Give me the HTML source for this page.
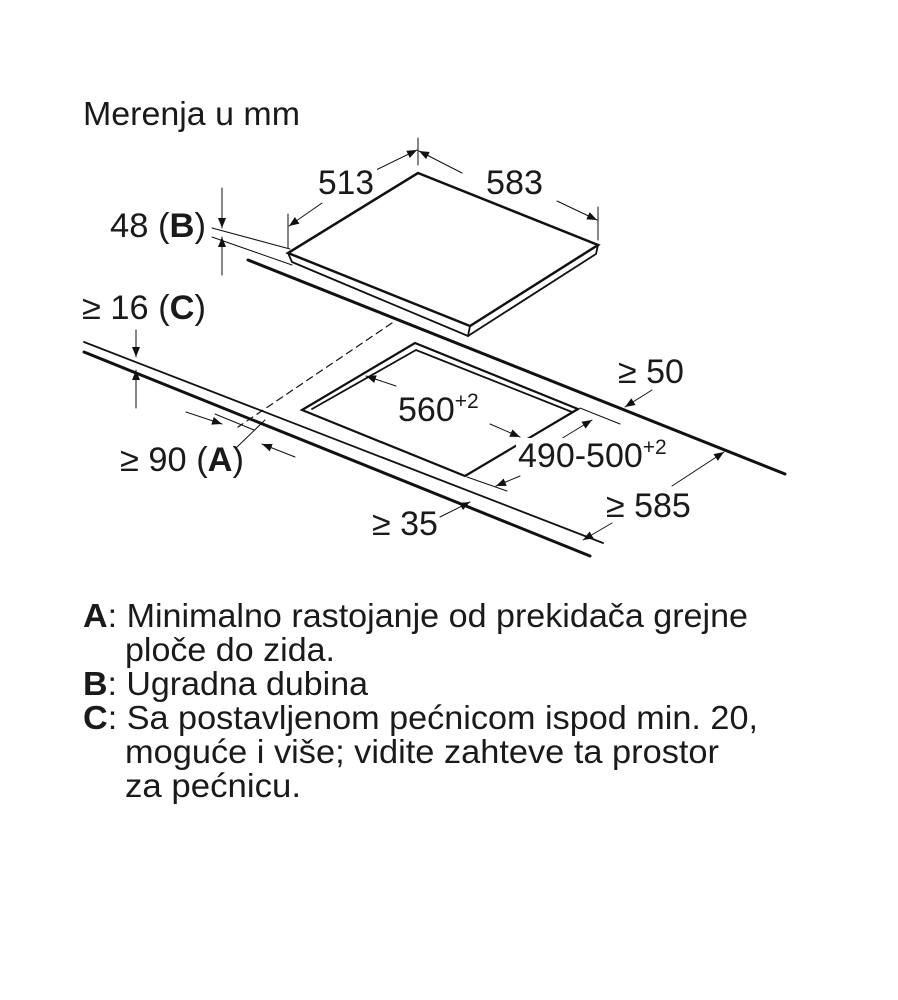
<!DOCTYPE html>
<html><head><meta charset="utf-8"><style>
html,body{margin:0;padding:0;background:#fff;}
svg{display:block;}
text{font-family:"Liberation Sans",Arial,sans-serif;fill:#1a1a1a;}
</style></head><body>
<svg width="898" height="1000" viewBox="0 0 898 1000" xmlns="http://www.w3.org/2000/svg">
<defs>
<marker id="ar" viewBox="0 0 10 10" refX="10" refY="5" markerWidth="10" markerHeight="10" orient="auto-start-reverse" markerUnits="userSpaceOnUse">
<path d="M0,1 L10,5 L0,9 z" fill="#111"/></marker>
</defs>
<text x="83" y="125" font-size="33" textLength="217" lengthAdjust="spacingAndGlyphs">Merenja u mm</text>

<g stroke="#111" fill="none" stroke-linecap="round">
<path d="M418,173 L598,245 L470,326 L288,253 Z" stroke-width="2.5" fill="#fff"/>
<path d="M288,253 L292,262 L468,336 L470,326" stroke-width="1.8"/>
<path d="M468,336 L596,254 L598,245" stroke-width="1.8"/>
<line x1="248" y1="260" x2="785" y2="474" stroke-width="3"/>
<line x1="84" y1="342" x2="603" y2="543" stroke-width="1.8"/>
<line x1="84" y1="352" x2="590" y2="556" stroke-width="3"/>
<line x1="392" y1="323" x2="238" y2="427" stroke-width="1.2" stroke-dasharray="7,5"/>
<path d="M415,343 L578,409 L465,476 L302,410 Z" stroke-width="2.2" fill="#fff"/>
<path d="M312,409 L416,350 L572,412" stroke-width="1.8"/>
<line x1="212" y1="228" x2="290" y2="249" stroke-width="1"/>
<line x1="212" y1="237" x2="292" y2="265" stroke-width="1"/>
<line x1="222" y1="188" x2="222" y2="228" stroke-width="1" marker-end="url(#ar)"/>
<line x1="222" y1="275" x2="222" y2="237" stroke-width="1" marker-end="url(#ar)"/>
<line x1="288" y1="214" x2="288" y2="248" stroke-width="1"/>
<line x1="418" y1="138" x2="418" y2="165" stroke-width="1"/>
<line x1="322" y1="203" x2="289" y2="226" stroke-width="1" marker-end="url(#ar)"/>
<line x1="372" y1="172" x2="417" y2="150" stroke-width="1" marker-end="url(#ar)"/>
<line x1="598" y1="207" x2="598" y2="240" stroke-width="1"/>
<line x1="462" y1="173" x2="419" y2="151" stroke-width="1" marker-end="url(#ar)"/>
<line x1="557" y1="201" x2="597" y2="220" stroke-width="1" marker-end="url(#ar)"/>
<line x1="136" y1="330" x2="136" y2="357" stroke-width="1" marker-end="url(#ar)"/>
<line x1="136" y1="408" x2="136" y2="370" stroke-width="1" marker-end="url(#ar)"/>
<line x1="215" y1="414" x2="254" y2="430" stroke-width="1"/>
<line x1="186" y1="412" x2="222" y2="424" stroke-width="1" marker-end="url(#ar)"/>
<line x1="236" y1="448" x2="265" y2="420" stroke-width="1"/>
<line x1="295" y1="457" x2="262" y2="444" stroke-width="1" marker-end="url(#ar)"/>
<line x1="396" y1="386" x2="366" y2="376" stroke-width="1" marker-end="url(#ar)"/>
<line x1="490" y1="424" x2="520" y2="437" stroke-width="1" marker-end="url(#ar)"/>
<line x1="580" y1="408" x2="620" y2="424" stroke-width="1"/>
<line x1="467" y1="477" x2="507" y2="491" stroke-width="1"/>
<line x1="556" y1="442" x2="592" y2="420" stroke-width="1" marker-end="url(#ar)"/>
<line x1="520" y1="476" x2="496" y2="486" stroke-width="1" marker-end="url(#ar)"/>
<line x1="652" y1="390" x2="625" y2="407" stroke-width="1" marker-end="url(#ar)"/>
<line x1="672" y1="486" x2="724" y2="452" stroke-width="1" marker-end="url(#ar)"/>
<line x1="612" y1="523" x2="583" y2="540" stroke-width="1" marker-end="url(#ar)"/>
<line x1="440" y1="517" x2="470" y2="502" stroke-width="1" marker-end="url(#ar)"/>
</g>

<g font-size="34">
<rect x="315" y="162" width="62" height="34" fill="#fff"/>
<text x="318" y="194" textLength="56" lengthAdjust="spacingAndGlyphs">513</text>
<rect x="482" y="162" width="66" height="34" fill="#fff"/>
<text x="486" y="194" textLength="57" lengthAdjust="spacingAndGlyphs">583</text>
<text x="110" y="237" textLength="96" lengthAdjust="spacingAndGlyphs">48 (<tspan font-weight="bold">B</tspan>)</text>
<text x="82" y="319" textLength="124" lengthAdjust="spacingAndGlyphs">≥ 16 (<tspan font-weight="bold">C</tspan>)</text>
<text x="120" y="471" textLength="124" lengthAdjust="spacingAndGlyphs">≥ 90 (<tspan font-weight="bold">A</tspan>)</text>
<text x="398" y="421">560<tspan font-size="21" dy="-13">+2</tspan></text>
<rect x="516" y="438" width="162" height="34" fill="#fff"/>
<text x="518" y="467">490-500<tspan font-size="21" dy="-13">+2</tspan></text>
<text x="618" y="383">≥ 50</text>
<text x="606" y="517">≥ 585</text>
<text x="372" y="535">≥ 35</text>
</g>

<g font-size="33">
<text x="83" y="627" textLength="665" lengthAdjust="spacingAndGlyphs"><tspan font-weight="bold">A</tspan>: Minimalno rastojanje od prekidača grejne</text>
<text x="125" y="661" textLength="210" lengthAdjust="spacingAndGlyphs">ploče do zida.</text>
<text x="83" y="695" textLength="285" lengthAdjust="spacingAndGlyphs"><tspan font-weight="bold">B</tspan>: Ugradna dubina</text>
<text x="83" y="729" textLength="675" lengthAdjust="spacingAndGlyphs"><tspan font-weight="bold">C</tspan>: Sa postavljenom pećnicom ispod min. 20,</text>
<text x="125" y="763" textLength="594" lengthAdjust="spacingAndGlyphs">moguće i više; vidite zahteve ta prostor</text>
<text x="125" y="797" textLength="176" lengthAdjust="spacingAndGlyphs">za pećnicu.</text>
</g>
</svg>
</body></html>
